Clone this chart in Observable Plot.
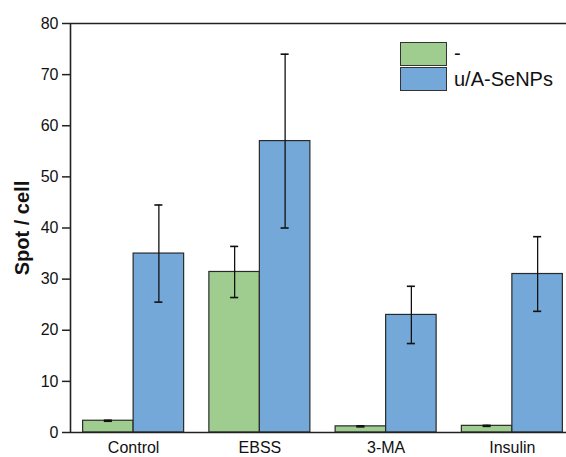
<!DOCTYPE html>
<html><head><meta charset="utf-8">
<script src="https://cdn.jsdelivr.net/npm/d3@7"></script>
<script src="https://cdn.jsdelivr.net/npm/@observablehq/plot@0.6"></script>
<style>
body{margin:0;overflow:hidden;background:#fff;font-family:"Liberation Sans",Arial,sans-serif}
#wrap{position:relative;width:566px;height:457px;overflow:hidden}
#wrap svg{max-width:none !important}
#legend{position:absolute;left:400px;top:41px;font-size:20px;color:#111}
.row{display:flex;align-items:center;height:25.5px}
.sw{width:45px;height:22px;border:1px solid #333;margin-right:7px}
</style>
</head><body><div id="wrap"></div>
<script>
const categories = ["Control", "EBSS", "3-MA", "Insulin"];
const series = ["-", "u/A-SeNPs"];
const plainMeans = [2.3, 31.4, 1.2, 1.3];
const plainErrors = [0.1, 5.0, 0.1, 0.1];
const senpMeans = [35.0, 57.0, 23.0, 31.0];
const senpErrors = [9.5, 17.0, 5.6, 7.3];
const yTicks = [0, 10, 20, 30, 40, 50, 60, 70, 80];
const colors = ["#9FCD90", "#73A8D8"];

const half = 0.4, cap = 0.032;
const rows = categories.flatMap((c, i) => [
  {cat: c, s: series[0], x1: i - half, x2: i, xc: i - half / 2, v: plainMeans[i], e: plainErrors[i]},
  {cat: c, s: series[1], x1: i, x2: i + half, xc: i + half / 2, v: senpMeans[i], e: senpErrors[i]}
]);

const chart = Plot.plot({
  width: 575, height: 457,
  marginLeft: 70, marginRight: 0, marginTop: 23, marginBottom: 25,
  style: {fontFamily: "'Liberation Sans', Arial, sans-serif", color: "#111", background: "#fff", maxWidth: "none"},
  x: {domain: [-0.5, 3.5]},
  y: {domain: [0, 80]},
  color: {domain: series, range: colors},
  marks: [
    Plot.rectY(rows, {x1: "x1", x2: "x2", y1: 0, y2: "v", fill: "s", stroke: "#2a2a2a", strokeWidth: 1.2}),
    Plot.ruleX(rows, {x: "xc", y1: d => d.v - d.e, y2: d => d.v + d.e, stroke: "#111", strokeWidth: 1.3}),
    Plot.ruleY(rows, {y: d => d.v + d.e, x1: d => d.xc - cap, x2: d => d.xc + cap, stroke: "#111", strokeWidth: 1.6}),
    Plot.ruleY(rows, {y: d => d.v - d.e, x1: d => d.xc - cap, x2: d => d.xc + cap, stroke: "#111", strokeWidth: 1.6}),
    Plot.ruleY([0, 80], {stroke: "#222", strokeWidth: 1.6}),
    Plot.ruleX([-0.5], {stroke: "#222", strokeWidth: 1.6}),
    Plot.axisY({ticks: yTicks, tickSize: 8, tickPadding: 4, fontSize: 16, stroke: "#222", strokeWidth: 1.5,
      label: "Spot / cell", labelAnchor: "center", labelArrow: "none", labelOffset: 56}),
    Plot.axisX({ticks: [0, 1, 2, 3], tickFormat: i => categories[i], tickSize: 0, tickPadding: 9, fontSize: 16, label: null})
  ]
});
const wrap = document.getElementById("wrap");
wrap.appendChild(chart);
chart.style.maxWidth = "none";
chart.style.width = "575px";
chart.style.height = "457px";
chart.querySelectorAll("[aria-label='y-axis label'] text, g[aria-label='y-axis label']").forEach(el => {
  el.setAttribute("font-weight", "bold");
  el.setAttribute("font-size", "20");
});

const legend = document.createElement("div");
legend.id = "legend";
series.forEach((s, k) => {
  const r = document.createElement("div");
  r.className = "row";
  const sw = document.createElement("div");
  sw.className = "sw";
  sw.style.background = colors[k];
  const t = document.createElement("span");
  t.textContent = s;
  r.appendChild(sw); r.appendChild(t);
  legend.appendChild(r);
});
wrap.appendChild(legend);
</script>
</body></html>
